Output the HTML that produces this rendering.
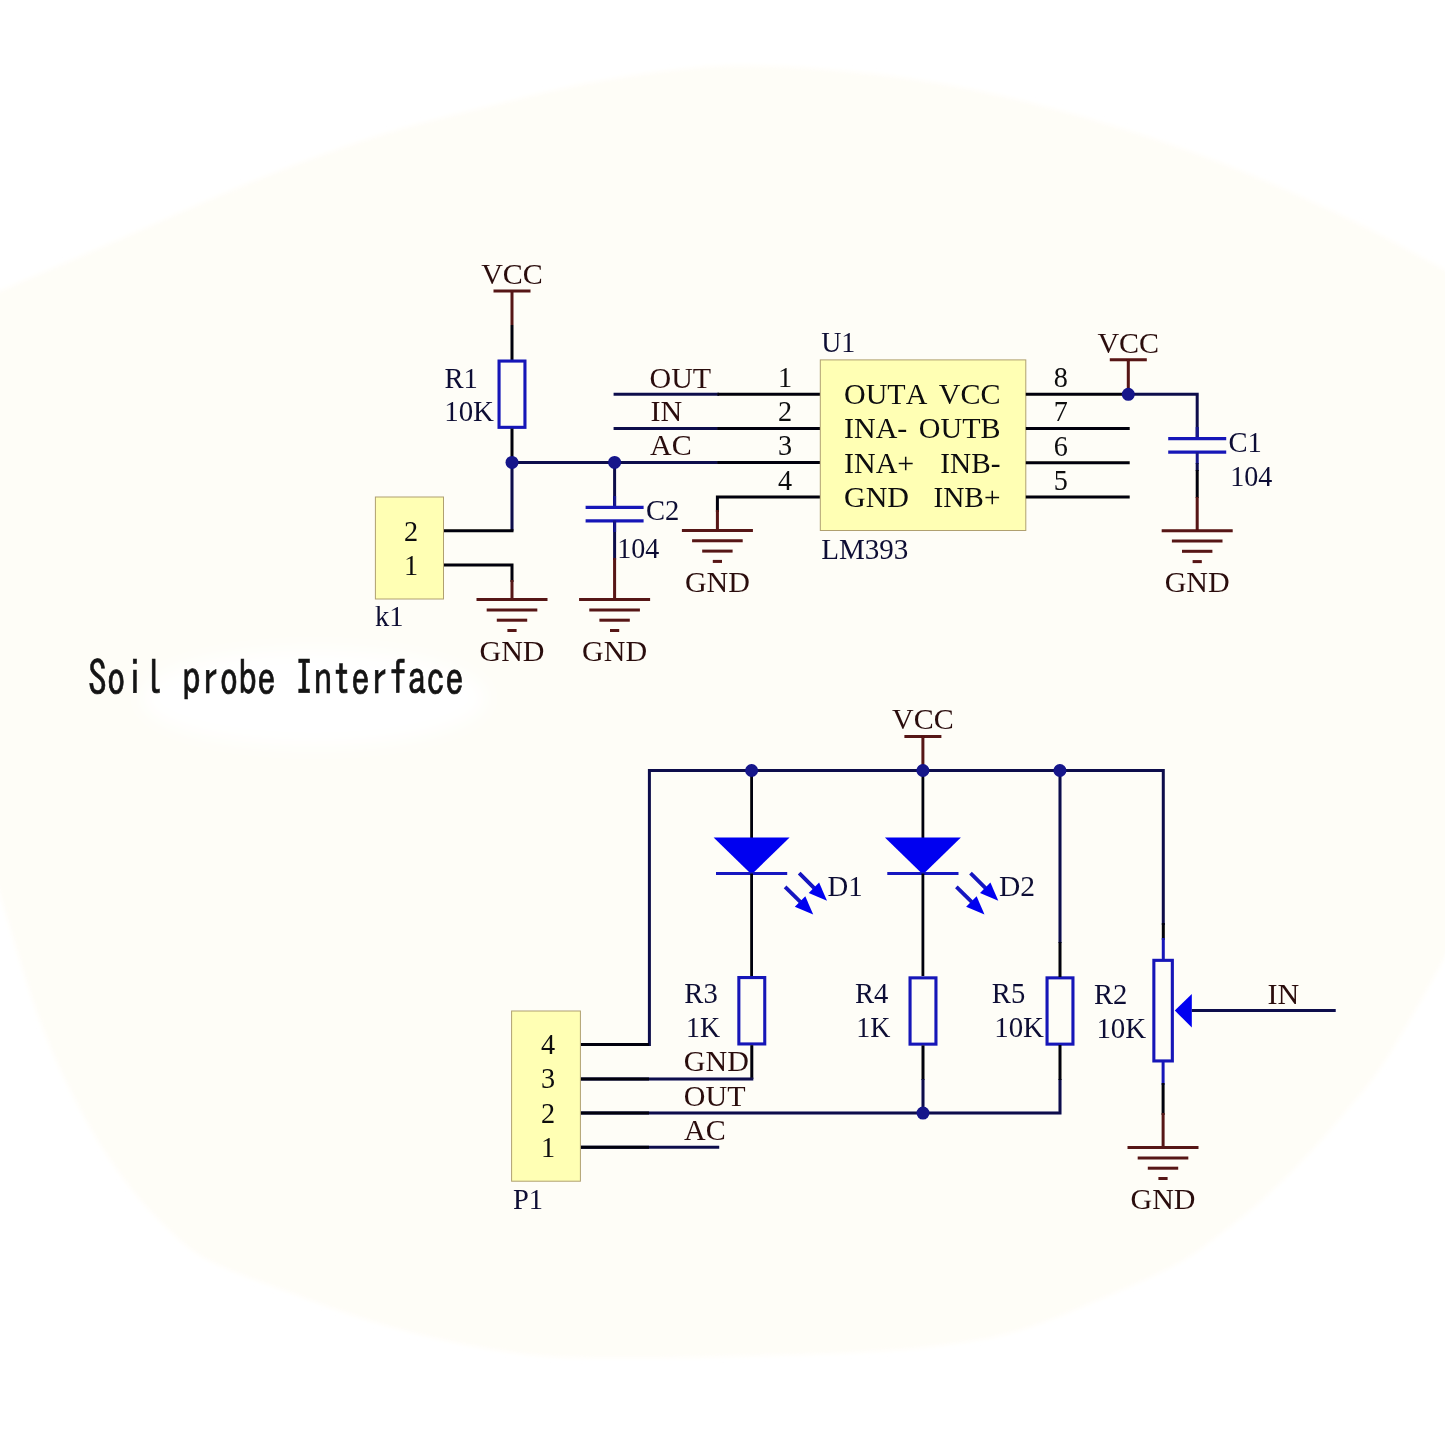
<!DOCTYPE html>
<html><head><meta charset="utf-8"><title>Soil probe Interface schematic</title>
<style>
html,body{margin:0;padding:0;background:#fff;}
body{width:1445px;height:1445px;overflow:hidden;position:relative;}
svg{position:absolute;left:0;top:0;display:block;}
svg text{font-family:"Liberation Serif","Noto Serif CJK SC",serif;font-kerning:none;}
.soil{filter:blur(0.5px);position:absolute;left:88px;top:651.8px;-webkit-text-stroke:0.55px #141414;font-family:"IPAGothic","Liberation Mono",monospace;font-size:37.6px;line-height:40px;color:#141414;white-space:pre;transform-origin:0 0;transform:scale(1,1.27);letter-spacing:0px;}
</style></head><body>
<svg width="1445" height="1445" viewBox="0 0 1445 1445">
<defs><filter id="bl" x="-20%" y="-40%" width="140%" height="180%"><feGaussianBlur stdDeviation="9"/></filter>
<filter id="soft" x="-2%" y="-2%" width="104%" height="104%"><feGaussianBlur stdDeviation="0.55"/></filter>
<filter id="bl2" x="-5%" y="-5%" width="110%" height="110%"><feGaussianBlur stdDeviation="2.5"/></filter></defs>
<path d="M-60,318 C-50.0,313.5 -30.8,304.5 0,291 C30.8,277.5 83.5,255.0 125,237 C166.5,219.0 207.5,199.7 249,183 C290.5,166.3 332.5,150.2 374,137 C415.5,123.8 460.3,113.3 498,104 C535.7,94.7 563.0,87.3 600,81 C637.0,74.7 679.2,67.7 720,66 C760.8,64.3 803.3,67.2 845,71 C886.7,74.8 928.5,80.8 970,89 C1011.5,97.2 1052.5,107.8 1094,120 C1135.5,132.2 1177.5,146.0 1219,162 C1260.5,178.0 1305.3,198.0 1343,216 C1380.7,234.0 1417.2,255.2 1445,270 C1472.8,284.8 1499.2,299.2 1510,305 L1510,830 C1499.2,851.2 1465.8,918.5 1445,957 C1424.2,995.5 1402.0,1034.7 1385,1061 C1368.0,1087.3 1356.8,1098.3 1343,1115 C1329.2,1131.7 1315.8,1146.5 1302,1161 C1288.2,1175.5 1273.8,1189.7 1260,1202 C1246.2,1214.3 1232.8,1224.7 1219,1235 C1205.2,1245.3 1197.8,1252.8 1177,1264 C1156.2,1275.2 1121.7,1290.5 1094,1302 C1066.3,1313.5 1038.7,1325.5 1011,1333 C983.3,1340.5 955.7,1343.7 928,1347 C900.3,1350.3 881.0,1351.3 845,1353 C809.0,1354.7 749.0,1356.2 712,1357 C675.0,1357.8 651.7,1358.2 623,1358 C594.3,1357.8 567.7,1358.5 540,1356 C512.3,1353.5 484.7,1348.7 457,1343 C429.3,1337.3 401.7,1330.3 374,1322 C346.3,1313.7 318.7,1303.3 291,1293 C263.3,1282.7 228.8,1271.0 208,1260 C187.2,1249.0 179.8,1240.2 166,1227 C152.2,1213.8 138.8,1199.7 125,1181 C111.2,1162.3 97.0,1141.2 83,1115 C69.0,1088.8 54.8,1060.7 41,1024 C27.2,987.3 13.5,939.0 0,895 C-13.5,851.0 -33.3,782.5 -40,760 Z" fill="#fefdf7" filter="url(#bl2)"/>
<ellipse cx="314" cy="698" rx="172" ry="48" fill="#ffffff" filter="url(#bl)"/>
<g filter="url(#soft)">
<line x1="493.5" y1="291" x2="530.5" y2="291" stroke="#561212" stroke-width="3.0" stroke-linecap="butt"/>
<text x="512.0" y="283.9" fill="#2c0f0f" font-size="29.9" text-anchor="middle" textLength="61.7" lengthAdjust="spacingAndGlyphs">VCC</text>
<line x1="512" y1="291" x2="512" y2="325" stroke="#561212" stroke-width="3.0" stroke-linecap="butt"/>
<line x1="512" y1="325" x2="512" y2="360" stroke="#050508" stroke-width="3.0" stroke-linecap="butt"/>
<rect x="499.05" y="361.05" width="25.90" height="66.30" fill="none" stroke="#1818b8" stroke-width="3.1"/>
<line x1="512" y1="428.6" x2="512" y2="462.4" stroke="#050508" stroke-width="3.0" stroke-linecap="butt"/>
<text x="444.5" y="387.5" fill="#101034" font-size="29.9" text-anchor="start" textLength="33.4" lengthAdjust="spacingAndGlyphs">R1</text>
<text x="444.2" y="421.1" fill="#101034" font-size="29.9" text-anchor="start" textLength="49.8" lengthAdjust="spacingAndGlyphs">10K</text>
<polyline points="512,462.4 512,530.7" fill="none" stroke="#0a0a4c" stroke-width="3.0" stroke-linejoin="miter"/>
<line x1="443.5" y1="530.7" x2="513.5" y2="530.7" stroke="#050508" stroke-width="3.0" stroke-linecap="butt"/>
<polyline points="443.5,565 512,565 512,582" fill="none" stroke="#050508" stroke-width="3.0" stroke-linejoin="miter"/>
<line x1="512" y1="580" x2="512" y2="599.6" stroke="#561212" stroke-width="3.0" stroke-linecap="butt"/>
<line x1="512" y1="462.4" x2="820" y2="462.4" stroke="#0a0a4c" stroke-width="3.0" stroke-linecap="butt"/>
<rect x="375.4" y="497" width="68.10000000000002" height="102" fill="#ffffb4" stroke="#b0a070" stroke-width="1"/>
<text x="411.0" y="540.7" fill="#0c0c10" font-size="29.9" text-anchor="middle" textLength="14.1" lengthAdjust="spacingAndGlyphs">2</text>
<text x="411.0" y="575.2" fill="#0c0c10" font-size="29.9" text-anchor="middle" textLength="14.1" lengthAdjust="spacingAndGlyphs">1</text>
<text x="375.0" y="626.2" fill="#101034" font-size="29.9" text-anchor="start" textLength="28.4" lengthAdjust="spacingAndGlyphs">k1</text>
<line x1="476.5" y1="599.6" x2="547.5" y2="599.6" stroke="#561212" stroke-width="3.0" stroke-linecap="butt"/>
<line x1="486.7" y1="609.9" x2="537.3" y2="609.9" stroke="#561212" stroke-width="3.0" stroke-linecap="butt"/>
<line x1="496.8" y1="620.2" x2="527.2" y2="620.2" stroke="#561212" stroke-width="3.0" stroke-linecap="butt"/>
<line x1="507.4" y1="630.5" x2="516.6" y2="630.5" stroke="#561212" stroke-width="3.0" stroke-linecap="butt"/>
<text x="512.0" y="661.0" fill="#2c0f0f" font-size="29.9" text-anchor="middle" textLength="65.0" lengthAdjust="spacingAndGlyphs">GND</text>
<line x1="614.6" y1="462.4" x2="614.6" y2="507.3" stroke="#0a0a4c" stroke-width="3.0" stroke-linecap="butt"/>
<line x1="614.6" y1="496" x2="614.6" y2="507.3" stroke="#14148c" stroke-width="3.0" stroke-linecap="butt"/>
<line x1="585.6" y1="507.3" x2="643.6" y2="507.3" stroke="#1818b8" stroke-width="3.2" stroke-linecap="butt"/>
<line x1="585.6" y1="520.8" x2="643.6" y2="520.8" stroke="#1818b8" stroke-width="3.2" stroke-linecap="butt"/>
<line x1="614.6" y1="520.8" x2="614.6" y2="560" stroke="#0a0a4c" stroke-width="3.0" stroke-linecap="butt"/>
<line x1="614.6" y1="520.8" x2="614.6" y2="532" stroke="#14148c" stroke-width="3.0" stroke-linecap="butt"/>
<line x1="614.6" y1="558" x2="614.6" y2="599.6" stroke="#561212" stroke-width="3.0" stroke-linecap="butt"/>
<line x1="579.1" y1="599.6" x2="650.1" y2="599.6" stroke="#561212" stroke-width="3.0" stroke-linecap="butt"/>
<line x1="589.3000000000001" y1="609.9" x2="639.9" y2="609.9" stroke="#561212" stroke-width="3.0" stroke-linecap="butt"/>
<line x1="599.4" y1="620.2" x2="629.8000000000001" y2="620.2" stroke="#561212" stroke-width="3.0" stroke-linecap="butt"/>
<line x1="610.0" y1="630.5" x2="619.2" y2="630.5" stroke="#561212" stroke-width="3.0" stroke-linecap="butt"/>
<text x="614.6" y="661.0" fill="#2c0f0f" font-size="29.9" text-anchor="middle" textLength="65.0" lengthAdjust="spacingAndGlyphs">GND</text>
<text x="646.0" y="519.5" fill="#101034" font-size="29.9" text-anchor="start" textLength="33.4" lengthAdjust="spacingAndGlyphs">C2</text>
<text x="617.2" y="558.1" fill="#101034" font-size="29.9" text-anchor="start" textLength="42.1" lengthAdjust="spacingAndGlyphs">104</text>
<line x1="613.6" y1="394.3" x2="719" y2="394.3" stroke="#0a0a4c" stroke-width="3.0" stroke-linecap="butt"/>
<line x1="717.4" y1="394.3" x2="820" y2="394.3" stroke="#050508" stroke-width="3.0" stroke-linecap="butt"/>
<line x1="613.6" y1="428.5" x2="719" y2="428.5" stroke="#0a0a4c" stroke-width="3.0" stroke-linecap="butt"/>
<line x1="717.4" y1="428.5" x2="820" y2="428.5" stroke="#050508" stroke-width="3.0" stroke-linecap="butt"/>
<line x1="717.4" y1="462.4" x2="820" y2="462.4" stroke="#050508" stroke-width="3.0" stroke-linecap="butt"/>
<text x="649.5" y="387.5" fill="#2c0f0f" font-size="29.9" text-anchor="start" textLength="61.7" lengthAdjust="spacingAndGlyphs">OUT</text>
<text x="650.5" y="421.1" fill="#2c0f0f" font-size="29.9" text-anchor="start" textLength="31.7" lengthAdjust="spacingAndGlyphs">IN</text>
<text x="650.0" y="455.2" fill="#2c0f0f" font-size="29.9" text-anchor="start" textLength="41.7" lengthAdjust="spacingAndGlyphs">AC</text>
<polyline points="820,496.9 717.4,496.9 717.4,512" fill="none" stroke="#050508" stroke-width="3.0" stroke-linejoin="miter"/>
<line x1="717.4" y1="510" x2="717.4" y2="530.5" stroke="#561212" stroke-width="3.0" stroke-linecap="butt"/>
<line x1="681.9" y1="530.5" x2="752.9" y2="530.5" stroke="#561212" stroke-width="3.0" stroke-linecap="butt"/>
<line x1="692.1" y1="540.8" x2="742.6999999999999" y2="540.8" stroke="#561212" stroke-width="3.0" stroke-linecap="butt"/>
<line x1="702.1999999999999" y1="551.1" x2="732.6" y2="551.1" stroke="#561212" stroke-width="3.0" stroke-linecap="butt"/>
<line x1="712.8" y1="561.4" x2="722.0" y2="561.4" stroke="#561212" stroke-width="3.0" stroke-linecap="butt"/>
<text x="717.4" y="591.9" fill="#2c0f0f" font-size="29.9" text-anchor="middle" textLength="65.0" lengthAdjust="spacingAndGlyphs">GND</text>
<rect x="820.3" y="359.9" width="205.5" height="170.60000000000002" fill="#ffffb4" stroke="#b0a070" stroke-width="1"/>
<text x="821.2" y="352.4" fill="#101034" font-size="29.9" text-anchor="start" textLength="34.1" lengthAdjust="spacingAndGlyphs">U1</text>
<text x="821.2" y="559.0" fill="#101034" font-size="29.9" text-anchor="start" textLength="87.2" lengthAdjust="spacingAndGlyphs">LM393</text>
<text x="844.0" y="403.9" fill="#0c0c10" font-size="29.9" text-anchor="start" textLength="83.3" lengthAdjust="spacingAndGlyphs">OUTA</text>
<text x="1000.5" y="403.9" fill="#0c0c10" font-size="29.9" text-anchor="end" textLength="61.7" lengthAdjust="spacingAndGlyphs">VCC</text>
<text x="785.0" y="386.8" fill="#0c0c10" font-size="29.9" text-anchor="middle" textLength="14.1" lengthAdjust="spacingAndGlyphs">1</text>
<text x="1060.8" y="386.9" fill="#0c0c10" font-size="29.9" text-anchor="middle" textLength="14.1" lengthAdjust="spacingAndGlyphs">8</text>
<line x1="1025.8" y1="394.3" x2="1129.7" y2="394.3" stroke="#050508" stroke-width="3.0" stroke-linecap="butt"/>
<text x="844.0" y="438.3" fill="#0c0c10" font-size="29.9" text-anchor="start" textLength="63.3" lengthAdjust="spacingAndGlyphs">INA-</text>
<text x="1000.5" y="438.3" fill="#0c0c10" font-size="29.9" text-anchor="end" textLength="81.7" lengthAdjust="spacingAndGlyphs">OUTB</text>
<text x="785.0" y="421.1" fill="#0c0c10" font-size="29.9" text-anchor="middle" textLength="14.1" lengthAdjust="spacingAndGlyphs">2</text>
<text x="1060.8" y="421.2" fill="#0c0c10" font-size="29.9" text-anchor="middle" textLength="14.1" lengthAdjust="spacingAndGlyphs">7</text>
<line x1="1025.8" y1="428.5" x2="1129.7" y2="428.5" stroke="#050508" stroke-width="3.0" stroke-linecap="butt"/>
<text x="844.0" y="472.7" fill="#0c0c10" font-size="29.9" text-anchor="start" textLength="70.2" lengthAdjust="spacingAndGlyphs">INA+</text>
<text x="1000.5" y="472.7" fill="#0c0c10" font-size="29.9" text-anchor="end" textLength="60.2" lengthAdjust="spacingAndGlyphs">INB-</text>
<text x="785.0" y="455.4" fill="#0c0c10" font-size="29.9" text-anchor="middle" textLength="14.1" lengthAdjust="spacingAndGlyphs">3</text>
<text x="1060.8" y="455.5" fill="#0c0c10" font-size="29.9" text-anchor="middle" textLength="14.1" lengthAdjust="spacingAndGlyphs">6</text>
<line x1="1025.8" y1="462.70000000000005" x2="1129.7" y2="462.70000000000005" stroke="#050508" stroke-width="3.0" stroke-linecap="butt"/>
<text x="844.0" y="507.1" fill="#0c0c10" font-size="29.9" text-anchor="start" textLength="65.0" lengthAdjust="spacingAndGlyphs">GND</text>
<text x="1000.5" y="507.1" fill="#0c0c10" font-size="29.9" text-anchor="end" textLength="67.1" lengthAdjust="spacingAndGlyphs">INB+</text>
<text x="785.0" y="489.7" fill="#0c0c10" font-size="29.9" text-anchor="middle" textLength="14.1" lengthAdjust="spacingAndGlyphs">4</text>
<text x="1060.8" y="489.8" fill="#0c0c10" font-size="29.9" text-anchor="middle" textLength="14.1" lengthAdjust="spacingAndGlyphs">5</text>
<line x1="1025.8" y1="496.90000000000003" x2="1129.7" y2="496.90000000000003" stroke="#050508" stroke-width="3.0" stroke-linecap="butt"/>
<line x1="1109.8" y1="359.8" x2="1146.8" y2="359.8" stroke="#561212" stroke-width="3.0" stroke-linecap="butt"/>
<text x="1128.3" y="352.5" fill="#2c0f0f" font-size="29.9" text-anchor="middle" textLength="61.7" lengthAdjust="spacingAndGlyphs">VCC</text>
<line x1="1128.3" y1="359.8" x2="1128.3" y2="394.3" stroke="#561212" stroke-width="3.0" stroke-linecap="butt"/>
<polyline points="1128.3,394.3 1197.2,394.3 1197.2,438.7" fill="none" stroke="#0a0a4c" stroke-width="3.0" stroke-linejoin="miter"/>
<line x1="1197.2" y1="427" x2="1197.2" y2="438.7" stroke="#14148c" stroke-width="3.0" stroke-linecap="butt"/>
<line x1="1168.2" y1="438.7" x2="1226.2" y2="438.7" stroke="#1818b8" stroke-width="3.2" stroke-linecap="butt"/>
<line x1="1168.2" y1="452.2" x2="1226.2" y2="452.2" stroke="#1818b8" stroke-width="3.2" stroke-linecap="butt"/>
<line x1="1197.2" y1="452.2" x2="1197.2" y2="464" stroke="#14148c" stroke-width="3.0" stroke-linecap="butt"/>
<line x1="1197.2" y1="463" x2="1197.2" y2="471" stroke="#0a0a4c" stroke-width="3.0" stroke-linecap="butt"/>
<line x1="1197.2" y1="470" x2="1197.2" y2="498" stroke="#050508" stroke-width="3.0" stroke-linecap="butt"/>
<line x1="1197.2" y1="497" x2="1197.2" y2="530.7" stroke="#561212" stroke-width="3.0" stroke-linecap="butt"/>
<line x1="1161.7" y1="530.7" x2="1232.7" y2="530.7" stroke="#561212" stroke-width="3.0" stroke-linecap="butt"/>
<line x1="1171.9" y1="541.0" x2="1222.5" y2="541.0" stroke="#561212" stroke-width="3.0" stroke-linecap="butt"/>
<line x1="1182.0" y1="551.3000000000001" x2="1212.4" y2="551.3000000000001" stroke="#561212" stroke-width="3.0" stroke-linecap="butt"/>
<line x1="1192.6000000000001" y1="561.6" x2="1201.8" y2="561.6" stroke="#561212" stroke-width="3.0" stroke-linecap="butt"/>
<text x="1197.2" y="592.4" fill="#2c0f0f" font-size="29.9" text-anchor="middle" textLength="65.0" lengthAdjust="spacingAndGlyphs">GND</text>
<text x="1228.4" y="451.7" fill="#101034" font-size="29.9" text-anchor="start" textLength="33.4" lengthAdjust="spacingAndGlyphs">C1</text>
<text x="1230.2" y="485.9" fill="#101034" font-size="29.9" text-anchor="start" textLength="42.1" lengthAdjust="spacingAndGlyphs">104</text>
<line x1="904.4" y1="736.6" x2="941.4" y2="736.6" stroke="#561212" stroke-width="3.0" stroke-linecap="butt"/>
<text x="922.9" y="729.4" fill="#2c0f0f" font-size="29.9" text-anchor="middle" textLength="61.7" lengthAdjust="spacingAndGlyphs">VCC</text>
<line x1="922.9" y1="736.6" x2="922.9" y2="770.5" stroke="#561212" stroke-width="3.0" stroke-linecap="butt"/>
<polyline points="580.4,1044.6 649.4,1044.6 649.4,770.5 1163.3,770.5 1163.3,925" fill="none" stroke="#0a0a4c" stroke-width="3.0" stroke-linejoin="miter"/>
<line x1="580.4" y1="1044.6" x2="649" y2="1044.6" stroke="#050508" stroke-width="3.0" stroke-linecap="butt"/>
<line x1="1163.3" y1="923" x2="1163.3" y2="940" stroke="#050508" stroke-width="3.0" stroke-linecap="butt"/>
<line x1="1163.3" y1="938" x2="1163.3" y2="960" stroke="#1818b8" stroke-width="3.0" stroke-linecap="butt"/>
<line x1="751.6" y1="770.5" x2="751.6" y2="840" stroke="#050508" stroke-width="2.8" stroke-linecap="butt"/>
<polygon points="713.6,837.5 789.6,837.5 751.6,874.5" fill="#0606f0"/>
<line x1="716.0" y1="873.6" x2="787.2" y2="873.6" stroke="#1212c0" stroke-width="3.0" stroke-linecap="butt"/>
<line x1="751.6" y1="873.6" x2="751.6" y2="976" stroke="#050508" stroke-width="2.8" stroke-linecap="butt"/>
<line x1="799.2" y1="873.1" x2="819.0" y2="892.8" stroke="#1212c0" stroke-width="3.8" stroke-linecap="butt"/>
<polygon points="827.0,900.8 808.7,893.0 819.1,882.5" fill="#0606f0"/>
<line x1="785.1" y1="886.8" x2="805.2" y2="906.6" stroke="#1212c0" stroke-width="3.8" stroke-linecap="butt"/>
<polygon points="813.2,914.6 794.8,906.8 805.3,896.3" fill="#0606f0"/>
<text x="827.6" y="896.2" fill="#101034" font-size="29.9" text-anchor="start" textLength="35.1" lengthAdjust="spacingAndGlyphs">D1</text>
<line x1="922.9" y1="770.5" x2="922.9" y2="840" stroke="#050508" stroke-width="2.8" stroke-linecap="butt"/>
<polygon points="884.9,837.5 960.9,837.5 922.9,874.5" fill="#0606f0"/>
<line x1="887.3" y1="873.6" x2="958.5" y2="873.6" stroke="#1212c0" stroke-width="3.0" stroke-linecap="butt"/>
<line x1="922.9" y1="873.6" x2="922.9" y2="976" stroke="#050508" stroke-width="2.8" stroke-linecap="butt"/>
<line x1="970.5" y1="873.1" x2="990.3" y2="892.8" stroke="#1212c0" stroke-width="3.8" stroke-linecap="butt"/>
<polygon points="998.3,900.8 980.0,893.0 990.4,882.5" fill="#0606f0"/>
<line x1="956.4" y1="886.8" x2="976.5" y2="906.6" stroke="#1212c0" stroke-width="3.8" stroke-linecap="butt"/>
<polygon points="984.5,914.6 966.1,906.8 976.6,896.3" fill="#0606f0"/>
<text x="998.9" y="896.2" fill="#101034" font-size="29.9" text-anchor="start" textLength="36.1" lengthAdjust="spacingAndGlyphs">D2</text>
<rect x="738.85" y="977.55" width="25.90" height="66.40" fill="none" stroke="#1818b8" stroke-width="3.1"/>
<rect x="910.05" y="977.85" width="25.90" height="66.30" fill="none" stroke="#1818b8" stroke-width="3.1"/>
<rect x="1047.05" y="977.85" width="25.90" height="66.30" fill="none" stroke="#1818b8" stroke-width="3.1"/>
<line x1="751.8" y1="1045.2" x2="751.8" y2="1079" stroke="#050508" stroke-width="3.0" stroke-linecap="butt"/>
<line x1="580.4" y1="1079" x2="753.3" y2="1079" stroke="#0a0a4c" stroke-width="3.0" stroke-linecap="butt"/>
<line x1="580.4" y1="1079" x2="649" y2="1079" stroke="#050508" stroke-width="3.0" stroke-linecap="butt"/>
<line x1="923" y1="1045.4" x2="923" y2="1080" stroke="#050508" stroke-width="3.0" stroke-linecap="butt"/>
<line x1="923" y1="1079" x2="923" y2="1113" stroke="#0a0a4c" stroke-width="3.0" stroke-linecap="butt"/>
<line x1="1060" y1="770.5" x2="1060" y2="943" stroke="#0a0a4c" stroke-width="3.0" stroke-linecap="butt"/>
<line x1="1060" y1="942" x2="1060" y2="977" stroke="#050508" stroke-width="3.0" stroke-linecap="butt"/>
<polyline points="580.4,1113 1060,1113 1060,1079" fill="none" stroke="#0a0a4c" stroke-width="3.0" stroke-linejoin="miter"/>
<line x1="1060" y1="1045" x2="1060" y2="1080" stroke="#050508" stroke-width="3.0" stroke-linecap="butt"/>
<line x1="580.4" y1="1113" x2="649" y2="1113" stroke="#050508" stroke-width="3.0" stroke-linecap="butt"/>
<line x1="580.4" y1="1147.2" x2="719.2" y2="1147.2" stroke="#0a0a4c" stroke-width="3.0" stroke-linecap="butt"/>
<line x1="580.4" y1="1147.2" x2="649" y2="1147.2" stroke="#050508" stroke-width="3.0" stroke-linecap="butt"/>
<text x="684.3" y="1002.9" fill="#101034" font-size="29.9" text-anchor="start" textLength="33.4" lengthAdjust="spacingAndGlyphs">R3</text>
<text x="686.0" y="1036.6" fill="#101034" font-size="29.9" text-anchor="start" textLength="34.1" lengthAdjust="spacingAndGlyphs">1K</text>
<text x="855.0" y="1003.4" fill="#101034" font-size="29.9" text-anchor="start" textLength="33.4" lengthAdjust="spacingAndGlyphs">R4</text>
<text x="856.2" y="1037.1" fill="#101034" font-size="29.9" text-anchor="start" textLength="34.1" lengthAdjust="spacingAndGlyphs">1K</text>
<text x="991.8" y="1003.4" fill="#101034" font-size="29.9" text-anchor="start" textLength="33.4" lengthAdjust="spacingAndGlyphs">R5</text>
<text x="994.2" y="1037.1" fill="#101034" font-size="29.9" text-anchor="start" textLength="49.8" lengthAdjust="spacingAndGlyphs">10K</text>
<text x="1094.0" y="1003.6" fill="#101034" font-size="29.9" text-anchor="start" textLength="33.4" lengthAdjust="spacingAndGlyphs">R2</text>
<text x="1096.4" y="1037.9" fill="#101034" font-size="29.9" text-anchor="start" textLength="49.8" lengthAdjust="spacingAndGlyphs">10K</text>
<text x="683.8" y="1071.2" fill="#2c0f0f" font-size="29.9" text-anchor="start" textLength="65.0" lengthAdjust="spacingAndGlyphs">GND</text>
<text x="683.8" y="1105.6" fill="#2c0f0f" font-size="29.9" text-anchor="start" textLength="61.7" lengthAdjust="spacingAndGlyphs">OUT</text>
<text x="684.0" y="1139.9" fill="#2c0f0f" font-size="29.9" text-anchor="start" textLength="41.7" lengthAdjust="spacingAndGlyphs">AC</text>
<rect x="511.6" y="1011" width="68.79999999999995" height="170.20000000000005" fill="#ffffb4" stroke="#b0a070" stroke-width="1"/>
<text x="548.0" y="1054.0" fill="#0c0c10" font-size="29.9" text-anchor="middle" textLength="14.1" lengthAdjust="spacingAndGlyphs">4</text>
<text x="548.0" y="1088.4" fill="#0c0c10" font-size="29.9" text-anchor="middle" textLength="14.1" lengthAdjust="spacingAndGlyphs">3</text>
<text x="548.0" y="1122.8" fill="#0c0c10" font-size="29.9" text-anchor="middle" textLength="14.1" lengthAdjust="spacingAndGlyphs">2</text>
<text x="548.0" y="1157.2" fill="#0c0c10" font-size="29.9" text-anchor="middle" textLength="14.1" lengthAdjust="spacingAndGlyphs">1</text>
<text x="513.0" y="1208.9" fill="#101034" font-size="29.9" text-anchor="start" textLength="30.1" lengthAdjust="spacingAndGlyphs">P1</text>
<rect x="1153.85" y="960.35" width="18.50" height="100.60" fill="none" stroke="#1818b8" stroke-width="3.1"/>
<line x1="1163.1" y1="1061" x2="1163.1" y2="1085" stroke="#1818b8" stroke-width="3.0" stroke-linecap="butt"/>
<line x1="1163.1" y1="1083" x2="1163.1" y2="1115" stroke="#050508" stroke-width="3.0" stroke-linecap="butt"/>
<line x1="1163.1" y1="1113" x2="1163.1" y2="1147.6" stroke="#561212" stroke-width="3.0" stroke-linecap="butt"/>
<line x1="1127.5" y1="1147.6" x2="1198.5" y2="1147.6" stroke="#561212" stroke-width="3.0" stroke-linecap="butt"/>
<line x1="1137.7" y1="1157.8999999999999" x2="1188.3" y2="1157.8999999999999" stroke="#561212" stroke-width="3.0" stroke-linecap="butt"/>
<line x1="1147.8" y1="1168.1999999999998" x2="1178.2" y2="1168.1999999999998" stroke="#561212" stroke-width="3.0" stroke-linecap="butt"/>
<line x1="1158.4" y1="1178.5" x2="1167.6" y2="1178.5" stroke="#561212" stroke-width="3.0" stroke-linecap="butt"/>
<text x="1163.0" y="1208.7" fill="#2c0f0f" font-size="29.9" text-anchor="middle" textLength="65.0" lengthAdjust="spacingAndGlyphs">GND</text>
<polygon points="1174.8,1010.5 1191.8,994 1191.8,1027.6" fill="#0606f0"/>
<line x1="1191.8" y1="1010.5" x2="1335.7" y2="1010.5" stroke="#0a0a4c" stroke-width="3.0" stroke-linecap="butt"/>
<text x="1267.6" y="1003.6" fill="#2c0f0f" font-size="29.9" text-anchor="start" textLength="31.7" lengthAdjust="spacingAndGlyphs">IN</text>
<circle cx="512" cy="462.4" r="6.5" fill="#12128a"/>
<circle cx="614.6" cy="462.4" r="6.5" fill="#12128a"/>
<circle cx="1128.3" cy="394.3" r="6.5" fill="#12128a"/>
<circle cx="751.6" cy="770.5" r="6.5" fill="#12128a"/>
<circle cx="922.9" cy="770.5" r="6.5" fill="#12128a"/>
<circle cx="1059.9" cy="770.5" r="6.5" fill="#12128a"/>
<circle cx="923" cy="1113.1" r="6.5" fill="#12128a"/>
</g>
</svg>
<div class="soil">Soil probe Interface</div>
</body></html>
